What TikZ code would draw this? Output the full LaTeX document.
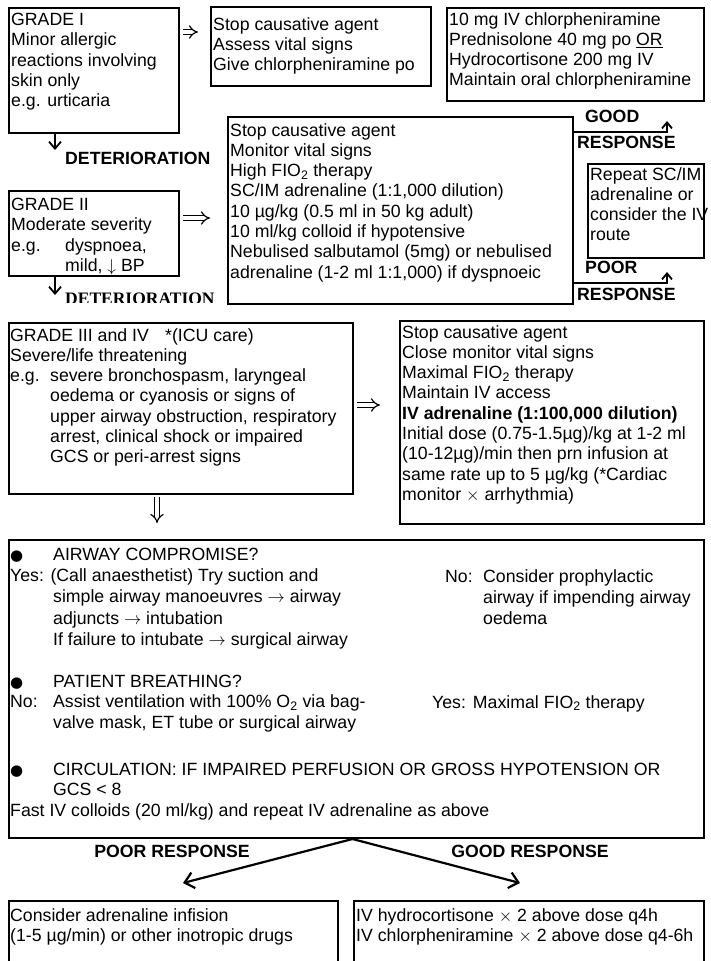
\documentclass[tikz,border=0pt]{standalone}
\usepackage{fontspec}
\setmainfont{Liberation Sans}
\newfontfamily\detfont{Liberation Serif}
\newfontfamily\symfont{DejaVu Sans}
\usetikzlibrary{arrows.meta}
\newcommand{\fs}{\fontsize{17.7}{20.3}\selectfont}
\newcommand{\fsab}{\fontsize{17.7}{21.2}\selectfont}
\newcommand{\tabto}[2]{\makebox[#1][l]{#2}}
\newcommand{\blt}{{\symfont\fontsize{15}{15}\selectfont ●}}

\begin{document}
\begin{tikzpicture}[x=1pt, y=-1pt,
  box/.style={draw, line width=2pt, anchor=north west, inner sep=0pt},
  txt/.style={anchor=north west, align=left, inner sep=0pt, font=\fs},
  lbl/.style={anchor=west, inner sep=0pt, font=\fs\bfseries},
  down/.style={line width=1.8pt, -{Straight Barb[length=7pt, width=12pt]}},
  dbl/.style={double, double distance=3.4pt, line width=1.2pt, -{Implies[scale=1.4]}},
  resp/.style={line width=1.8pt, -{Straight Barb[length=6pt, width=10pt]}},
  fork/.style={line width=2.2pt, -{Straight Barb[length=9pt, width=16pt]}}]

\useasboundingbox (0,0) rectangle (710,961);
\clip (0,0) rectangle (710,961);

% =====================================================
% Grade I
% =====================================================
\node[box, minimum width=170, minimum height=125] (g1) at (8,7) {};
\node[txt] (g1t) at (11,13) {GRADE I\\Minor allergic\\reactions involving\\skin only\\e.g. urticaria};

\node[box, minimum width=220, minimum height=79] (s1) at (210,6) {};
\node[txt] (s1t) at (213,17) {Stop causative agent\\Assess vital signs\\Give chlorpheniramine po};

\node[box, minimum width=257, minimum height=93] (t1) at (446,7) {};
\node[txt] (t1t) at (449,12) {10 mg IV chlorpheniramine\\Prednisolone 40 mg po \underline{OR}\\Hydrocortisone 200 mg IV\\Maintain oral chlorpheniramine};

\draw[dbl, shorten <=3pt, shorten >=12pt] (g1.east |- 0,32) -- (s1.west |- 0,32);

% deterioration I -> II
\coordinate (d1) at (55,150);
\draw[down] (g1.south -| d1) -- (d1);
\node[lbl] (det1) at (65,158) {DETERIORATION};

% =====================================================
% Grade II
% =====================================================
\node[box, minimum width=170, minimum height=85] (g2) at (8,190) {};
\node[txt] (g2t) at (11,198) {GRADE II\\Moderate severity\\\tabto{54pt}{e.g.}dyspnoea,\\\hspace*{54pt}mild, $\downarrow$ BP};

\node[box, minimum width=345, minimum height=187] (s2) at (227,116) {};
\node[txt] (s2t) at (230,123) {Stop causative agent\\Monitor vital signs\\High FIO\textsubscript{2} therapy\\SC/IM adrenaline (1:1,000 dilution)\\10 µg/kg (0.5 ml in 50 kg adult)\\10 ml/kg colloid if hypotensive\\Nebulised salbutamol (5mg) or nebulised\\adrenaline (1-2 ml 1:1,000) if dyspnoeic};

\node[box, minimum width=116, minimum height=94] (rp) at (587,163) {};
\node[txt] (rpt) at (590,167) {Repeat SC/IM\\adrenaline or\\consider the IV\\route};

\draw[dbl, shorten <=3pt, shorten >=17pt] (g2.east |- 0,218) -- (s2.west |- 0,218);

% responses
\coordinate (gup) at (667,121);
\coordinate (pup) at (667,272);
\draw[resp] (s2.east |- 0,132) -| (gup);
\draw[resp] (s2.east |- 0,283) -| (pup);
\node[lbl] (good1) at (585,116) {GOOD};
\node[lbl] (rsp1) at (577,142) {RESPONSE};
\node[lbl] (poor1) at (585,267) {POOR};
\node[lbl] (rsp2) at (577,294) {RESPONSE};

% deterioration II -> III
\coordinate (d2) at (55,295);
\draw[down] (g2.south -| d2) -- (d2);
\begin{scope}
  \clip (60,280) rectangle (225,302);
  \node[lbl, font=\fontsize{17.5}{20}\detfont\bfseries] (det2) at (65,299) {DETERIORATION};
\end{scope}

% =====================================================
% Grade III and IV
% =====================================================
\node[box, minimum width=344, minimum height=171] (g3) at (8,322) {};
\node[txt] (g3t) at (10,328) {\tabto{155pt}{GRADE III and IV}*(ICU care)\\Severe/life threatening\\\tabto{40pt}{e.g.}severe bronchospasm, laryngeal\\\hspace*{40pt}oedema or cyanosis or signs of\\\hspace*{40pt}upper airway obstruction, respiratory\\\hspace*{40pt}arrest, clinical shock or impaired\\\hspace*{40pt}GCS or peri-arrest signs};

\node[box, minimum width=304, minimum height=203] (s3) at (399,320) {};
\node[txt] (s3t) at (402,325) {Stop causative agent\\Close monitor vital signs\\Maximal FIO\textsubscript{2} therapy\\Maintain IV access\\\textbf{IV adrenaline (1:100,000 dilution)}\\Initial dose (0.75-1.5µg)/kg at 1-2 ml\\(10-12µg)/min then prn infusion at\\same rate up to 5 µg/kg (*Cardiac\\monitor $\times$ arrhythmia)};

\draw[dbl, shorten <=3pt, shorten >=19pt] (g3.east |- 0,405) -- (s3.west |- 0,405);

% =====================================================
% ABC box
% =====================================================
\node[box, minimum width=695, minimum height=298] (ab) at (8,539) {};
\node[txt, font=\fsab] (air) at (10,548) {\tabto{43pt}{\blt}AIRWAY COMPROMISE?\\Yes: (Call anaesthetist) Try suction and\\\hspace*{43pt}simple airway manoeuvres $\rightarrow$ airway\\\hspace*{43pt}adjuncts $\rightarrow$ intubation\\\hspace*{43pt}If failure to intubate $\rightarrow$ surgical airway};
\node[txt, font=\fsab] (airno) at (445,569) {\tabto{38pt}{No:}Consider prophylactic\\\hspace*{38pt}airway if impending airway\\\hspace*{38pt}oedema};
\node[txt] (brth) at (10,675) {\tabto{43pt}{\blt}PATIENT BREATHING?\\\tabto{43pt}{No:}Assist ventilation with 100\% O\textsubscript{2} via bag-\\\hspace*{43pt}valve mask, ET tube or surgical airway};
\node[txt] (brthyes) at (432,695) {Yes:\hspace{7pt}Maximal FIO\textsubscript{2} therapy};
\node[txt] (circ) at (10,763) {\tabto{43pt}{\blt}CIRCULATION: IF IMPAIRED PERFUSION OR GROSS HYPOTENSION OR\\\hspace*{43pt}GCS < 8\\Fast IV colloids (20 ml/kg) and repeat IV adrenaline as above};

\draw[dbl, shorten <=2pt, shorten >=16pt] (g3.south -| 157,0) -- (ab.north -| 157,0);

% =====================================================
% Outcome
% =====================================================
\coordinate (ptip) at (183,883);
\coordinate (gtip) at (520,883);
\draw[fork] ([xshift=-4pt]ab.south) -- (ptip);
\draw[fork] ([xshift=-4pt]ab.south) -- (gtip);
\node[lbl, anchor=center] (poor2) at (172,851) {POOR RESPONSE};
\node[lbl, anchor=center] (good2) at (530,851) {GOOD RESPONSE};

\node[box, minimum width=329, minimum height=90] (pr) at (8,900) {};
\node[txt] (prt) at (10,908) {Consider adrenaline infision\\(1-5 µg/min) or other inotropic drugs};

\node[box, minimum width=350, minimum height=90] (gd) at (353,900) {};
\node[txt] (gdt) at (356,908) {IV hydrocortisone $\times$ 2 above dose q4h\\IV chlorpheniramine $\times$ 2 above dose q4-6h};

\end{tikzpicture}
\end{document}
